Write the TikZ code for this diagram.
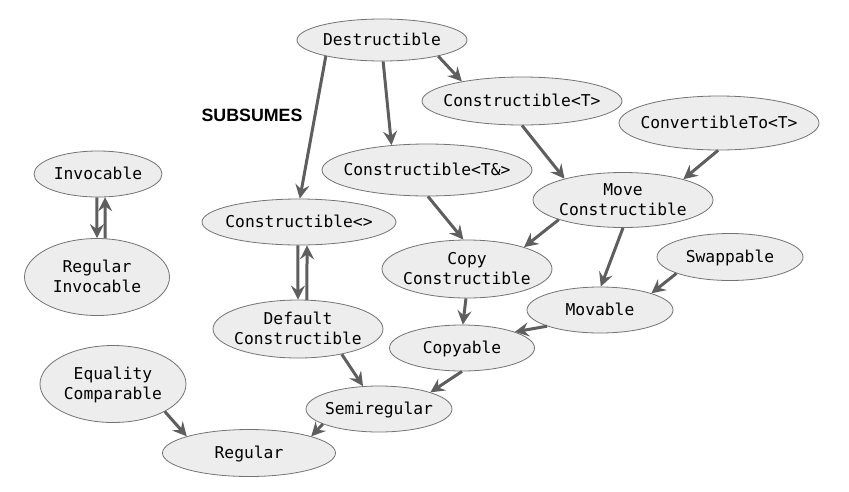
\documentclass[tikz,border=0pt]{standalone}
\usepackage{fontspec}
\setmonofont{DejaVu Sans Mono}
\newfontfamily\subsfont{Liberation Sans}
\usetikzlibrary{shapes.geometric,arrows.meta}
\newcommand\nlbl[1]{\makebox[0pt]{\raisebox{-0.33em}[0pt][0pt]{\begin{tabular}{@{}c@{}}#1\end{tabular}}}}
\tikzset{
  ell/.style={ellipse, draw=black!55, line width=0.8pt, fill=black!7, inner sep=0pt,
    font=\ttfamily\fontsize{16.3}{20}\selectfont},
  arr/.style={draw=black!63, line width=3pt, -{Stealth[length=14pt,width=14pt,inset=5pt]}}
}
\begin{document}
\begin{tikzpicture}[x=1pt,y=-1pt]
\useasboundingbox (0,0) rectangle (849,491);
\node[ell, minimum width=170, minimum height=42] (dest) at (382,40) {\nlbl{Destructible}};
\node[ell, minimum width=200, minimum height=48] (ct) at (522,101) {\nlbl{Constructible<T>}};
\node[ell, minimum width=200, minimum height=54] (conv) at (719,123) {\nlbl{ConvertibleTo<T>}};
\node[ell, minimum width=128, minimum height=46] (inv) at (98,174) {\nlbl{Invocable}};
\node[ell, minimum width=210, minimum height=52] (ctr) at (427,170) {\nlbl{Constructible<T\&>}};
\node[ell, minimum width=194, minimum height=46] (c0) at (299,222) {\nlbl{Constructible<>}};
\node[ell, minimum width=180, minimum height=55] (mc) at (623,200) {\nlbl{Move\\Constructible}};
\node[ell, minimum width=145, minimum height=77] (ri) at (97,277) {\nlbl{Regular\\Invocable}};
\node[ell, minimum width=170, minimum height=58] (cc) at (467,269) {\nlbl{Copy\\Constructible}};
\node[ell, minimum width=146, minimum height=47] (sw) at (730,257) {\nlbl{Swappable}};
\node[ell, minimum width=146, minimum height=46] (mov) at (600,310) {\nlbl{Movable}};
\node[ell, minimum width=170, minimum height=58] (dc) at (298,329) {\nlbl{Default\\Constructible}};
\node[ell, minimum width=145, minimum height=46] (cp) at (462,348) {\nlbl{Copyable}};
\node[ell, minimum width=146, minimum height=77] (eq) at (113,384) {\nlbl{Equality\\Comparable}};
\node[ell, minimum width=146, minimum height=46] (semi) at (379,409) {\nlbl{Semiregular}};
\node[ell, minimum width=173, minimum height=47] (reg) at (249,453) {\nlbl{Regular}};
\node[font=\subsfont\bfseries\fontsize{17.8}{20}\selectfont, inner sep=0pt] (subs) at (252,115) {SUBSUMES};
\draw[arr] (dest.344) -- (ct.162);
\draw[arr] (dest.196) -- (c0.88);
\draw[arr] (dest.273) -- (ctr.145);
\draw[arr] (ct.270) -- (mc.160);
\draw[arr] (conv.268) -- (mc.19);
\draw[arr] (ctr.272) -- (cc.97);
\draw[arr] (mc.197) -- (cc.21);
\draw[arr] (mc.270) -- (mov.88);
\draw[arr] (sw.197) -- (mov.18);
\draw[arr] (cc.268) -- (cp.88);
\draw[arr] (mov.197) -- (cp.17);
\draw[arr] (c0.267) -- (dc.90);
\draw[arr] (dc.73) -- (c0.289);
\draw[arr] (inv.267) -- (ri.90);
\draw[arr] (ri.78) -- (inv.287);
\draw[arr] (dc.330) -- (semi.125);
\draw[arr] (cp.270) -- (semi.18);
\draw[arr] (eq.332) -- (reg.165);
\draw[arr] (semi.195) -- (reg.15);
\end{tikzpicture}
\end{document}
